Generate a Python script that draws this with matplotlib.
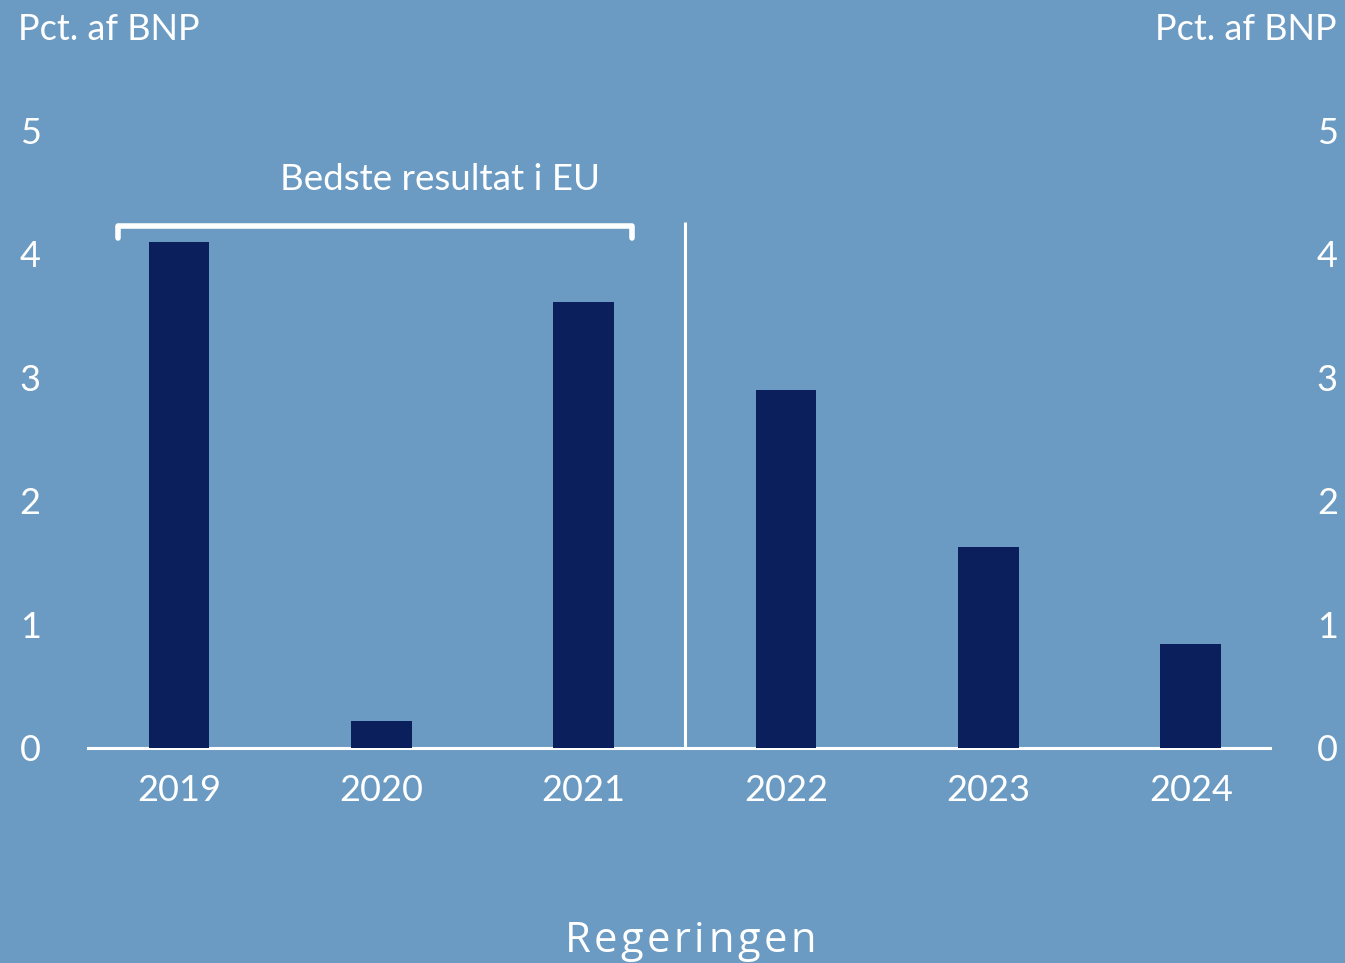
import matplotlib
matplotlib.use("Agg")
import matplotlib.pyplot as plt

years = ["2019", "2020", "2021", "2022", "2023", "2024"]
values = [4.1, 0.22, 3.61, 2.9, 1.63, 0.84]
yticks = [0, 1, 2, 3, 4, 5]
unit_label = "Pct. af BNP"
bracket_label = "Bedste resultat i EU"
bottom_label = "Regeringen"

BG = "#6b9bc3"
BAR = "#0a1f5c"
FONT = ["Lato", "DejaVu Sans"]
plt.rcParams["font.family"] = FONT

fig = plt.figure(figsize=(13.45, 9.63), dpi=100, facecolor=BG)
ax = fig.add_axes([0.0654, 0.2233, 0.8786, 0.6797])
ax.set_facecolor(BG)

x = list(range(len(years)))
ax.bar(x, values, width=0.3, color=BAR, zorder=3)
ax.set_xlim(-0.45, 5.39)
ax.set_ylim(0, 5.3)

for s in ["top", "left", "right"]:
    ax.spines[s].set_visible(False)
ax.spines["bottom"].set_color("white")
ax.spines["bottom"].set_linewidth(2.2)

ax.set_xticks(x)
ax.set_xticklabels(years)
ax.set_yticks(yticks)
ax.tick_params(axis="x", length=0, pad=19, labelsize=26, labelcolor="white")
ax.tick_params(axis="y", length=0, pad=34, labelsize=26, labelcolor="white")

ax2 = ax.twinx()
ax2.set_ylim(ax.get_ylim())
ax2.set_yticks(yticks)
ax2.tick_params(axis="y", length=0, pad=34, labelsize=26, labelcolor="white")
for s in ax2.spines.values():
    s.set_visible(False)

# vertical separator
ax.plot([2.5, 2.5], [0, 4.26], color="white", lw=2.2, zorder=4, solid_capstyle="butt")

# bracket
ax.plot([-0.3, -0.3, 2.24, 2.24], [4.13, 4.23, 4.23, 4.13], color="white", lw=4,
        solid_joinstyle="round", solid_capstyle="round", zorder=4)
ax.text(1.29, 4.6, bracket_label, ha="center", va="center", color="white", fontsize=26.5)

fig.text(18/1345, 1 - 30/963, unit_label, ha="left", va="center", color="white", fontsize=26)
fig.text(1337/1345, 1 - 30/963, unit_label, ha="right", va="center", color="white", fontsize=26)

# letter-spaced bottom label
fig.canvas.draw()
renderer = fig.canvas.get_renderer()
fs = 30
spacing = 3.5  # px between letters
chars = []
widths = []
for ch in bottom_label:
    t = fig.text(0, 0, ch, fontsize=fs, color="white", family=["Open Sans", "DejaVu Sans"],
                 ha="left", va="baseline")
    widths.append(t.get_window_extent(renderer).width)
    chars.append(t)
total = sum(widths) + spacing * (len(chars) - 1)
cx = 690.0
xpos = cx - total / 2
ypix = 963 - 952
for t, w in zip(chars, widths):
    t.set_position((xpos / 1345, ypix / 963))
    xpos += w + spacing

fig.savefig("out.png", dpi=100, facecolor=BG)
